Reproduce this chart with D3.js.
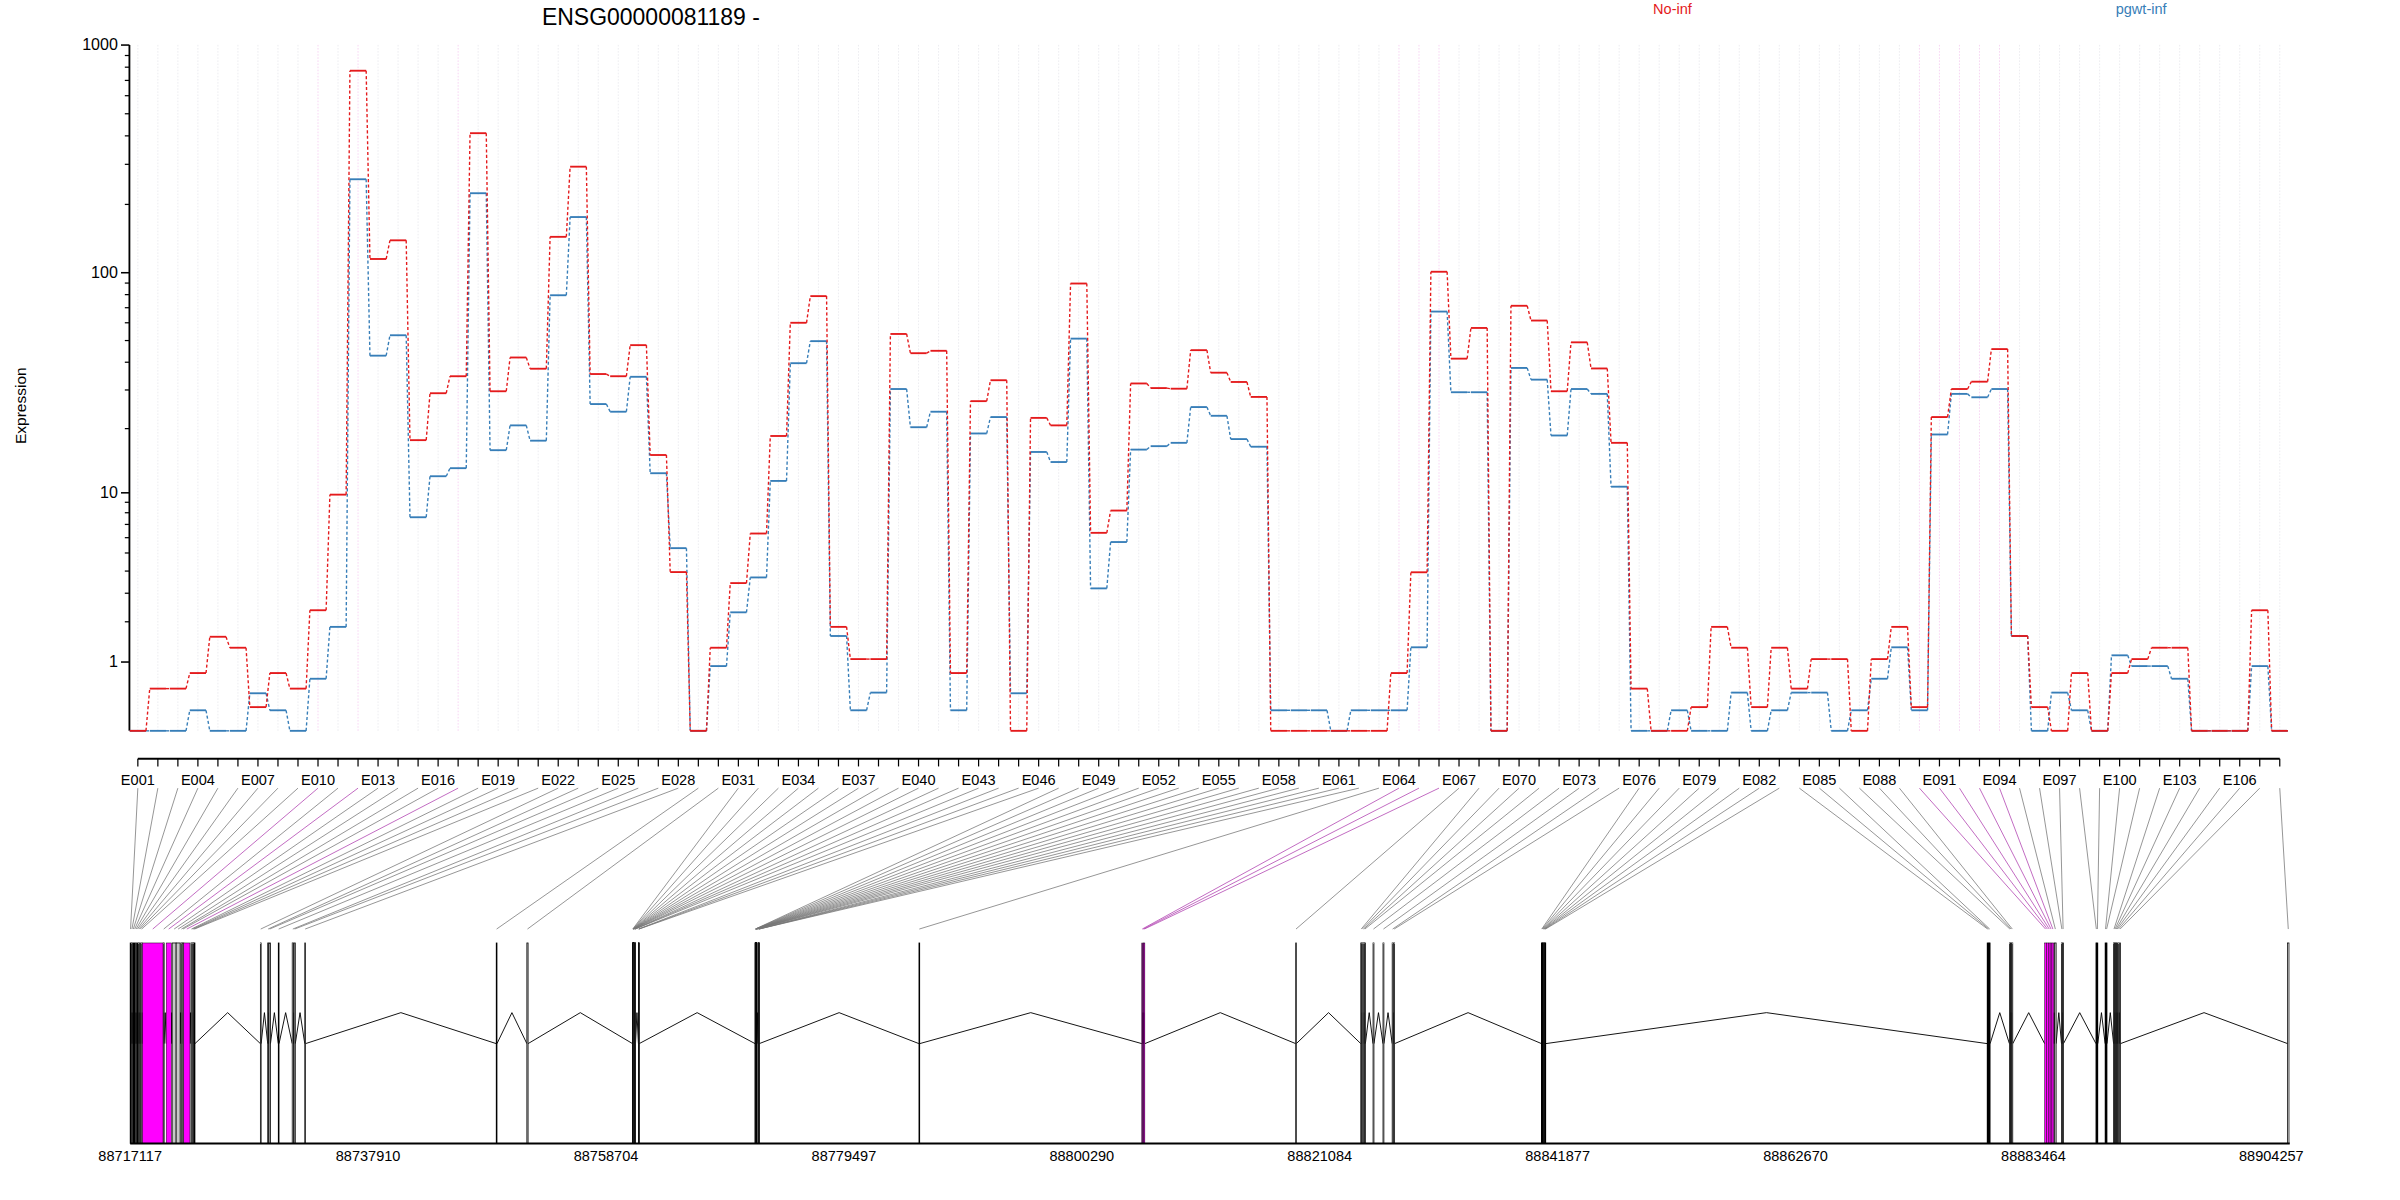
<!DOCTYPE html>
<html>
<head>
<meta charset="utf-8">
<script src="https://cdn.jsdelivr.net/npm/d3@7"></script>
<style>
  body { margin: 0; background: #fff; }
  text { font-family: "Liberation Sans", Arial, sans-serif; }
</style>
</head>
<body>
<div id="chart"></div>
<script>
// expression per exon, E001..E108
var noInf = [0,0.53,0.53,0.79,1.58,1.31,0.27,0.79,0.53,2.37,
  9.8,772,115,139,17.7,29,34.6,411,29.6,42,
  37.4,144,293,35.4,34.6,47.7,15.1,3.95,0,1.31,
  3.43,6.3,18.5,60,78.8,1.85,1.06,1.06,53.5,43.9,
  45,0.79,26.7,33.2,0,22.4,20.7,89.6,6.35,8.2,
  32.1,30.6,30.4,45.3,35.9,32.6,27.9,0,0,0,
  0,0,0,0.79,3.94,101,41.5,56.9,0,71.4,
  61.4,29.6,49.1,37.5,17.2,0.53,0,0,0.27,1.85,
  1.31,0.27,1.31,0.53,1.06,1.06,0,1.06,1.85,0.27,
  22.6,30.3,32.7,45.8,1.6,0.27,0,0.79,0,0.79,
  1.06,1.31,1.31,0,0,0,2.37,0];
var pgwtInf = [0,0,0,0.23,0,0,0.46,0.23,0,0.69,
  1.85,258,42.8,52.8,7.6,12,13.1,224,15.9,20.7,
  17.6,79.5,176,25.9,23.9,34.4,12.4,5.3,0,0.92,
  2.3,3.69,11.4,39.6,49.7,1.6,0.23,0.47,30.3,20.3,
  23.9,0.23,19,22.6,0.46,15.6,14,51,3.2,5.7,
  16,16.6,17.2,25.1,22.9,17.9,16.5,0.23,0.23,0.23,
  0,0.23,0.23,0.23,1.32,67.3,29.3,29.3,0,37.7,
  33.4,18.6,30.3,28.8,10.7,0,0,0.23,0,0,
  0.47,0,0.23,0.47,0.47,0,0.23,0.69,1.32,0.23,
  18.8,28.8,27.8,30.3,1.6,0,0.47,0.23,0,1.14,
  0.92,0.92,0.69,0,0,0,0.92,0];

// exon start (bp after gene start) and length (bp)
var exonStart = [0,120,241,361,482,602,723,843,964,1071,
  2891,3146,3668,4016,4444,4551,4685,5314,5421,5515,
  5595,11378,12021,12128,12944,14162,14323,15260,31993,34670,
  43906,43918,43930,43942,43954,43966,43978,43990,44002,44014,
  44100,44112,44124,44420,44435,44450,54615,54627,54639,54651,
  54663,54675,54687,54699,54711,54723,54735,54747,54900,54915,
  54930,54945,68938,88415,88509,88603,101867,107556,107663,107770,
  107877,108627,109497,110300,110434,123352,123399,123446,123493,123540,
  123587,123634,123681,162305,162399,162493,164246,164353,164460,167325,
  167485,167645,167805,167965,168195,168798,168905,171810,171904,172613,
  172707,173353,173447,173540,173634,173754,173888,188560];
var exonLength = [67,67,67,67,67,67,67,67,80,1807,
  80,442,348,348,80,134,535,80,80,67,
  67,67,67,134,67,107,107,67,67,107,
  40,40,40,40,40,40,40,40,40,40,40,40,40,40,40,40,
  40,40,40,40,40,40,40,40,40,40,40,40,40,40,40,40,
  67,80,80,80,54,80,80,80,80,80,80,80,80,
  40,40,40,40,40,40,40,40,
  67,67,67,80,80,80,160,160,160,160,160,134,67,67,67,67,67,67,
  67,67,67,67,67,67,120];
// w = white, m = magenta (flagged), g = grey
var exonFill = "wwwwwwwwwmwmggwwmwwww" + "wwgwwgw" + "wg" +
  "wwwwwwwwwwwwwggg" + "wwwwwwwwwwwwwwgg" + "w" + "mmm" + "w" +
  "wwwwwwww" + "gggggggg" + "www" + "wgw" + "mmmmm" + "g" + "ww" + "ww" + "ww" +
  "wwwgww" + "w";

var geneStart = 88717117;
var geneTicks = [88717117,88737910,88758704,88779497,88800290,88821084,88841877,88862670,88883464,88904257];
var exonIds = d3.range(1, 109).map(function(i) { return "E" + String(i).padStart(3, "0"); });
var yTicks = [1, 10, 100, 1000];

var W = 1567, H = 775;
var red = "#e41a1c", blue = "#377eb8";

var svg = d3.select("#chart").append("svg")
  .attr("width", 2400).attr("height", 1200)
  .attr("viewBox", "0 0 " + W + " " + H)
  .attr("preserveAspectRatio", "none");

var x = d3.scalePoint().domain(exonIds).range([90, 90 + 107 * 13.07]);
var y = d3.scaleLog().domain([1, 1001]).range([472, 29.1]);
var half = 5.3;

// grid
svg.append("g").selectAll("line").data(exonIds).enter().append("line")
  .attr("x1", d => x(d)).attr("x2", d => x(d))
  .attr("y1", 29).attr("y2", 472)
  .attr("stroke", (d, i) => exonFill[i] == "m" ? "#f4c8f0" : "#e6e6ec")
  .attr("stroke-width", 0.5)
  .attr("stroke-dasharray", "1,1");

// y axis
var yAxisG = svg.append("g");
yAxisG.append("line").attr("x1", 84.5).attr("x2", 84.5)
  .attr("y1", y(1001)).attr("y2", 472).attr("stroke", "#000").attr("stroke-width", 1.2);
var minor = [];
[1, 10, 100].forEach(function(b) { for (var k = 2; k <= 9; k++) minor.push(b * k); });
yAxisG.selectAll(".mt").data(minor).enter().append("line")
  .attr("x1", 81.5).attr("x2", 84.5)
  .attr("y1", d => y(d + 1)).attr("y2", d => y(d + 1))
  .attr("stroke", "#000").attr("stroke-width", 0.8);
yAxisG.selectAll(".Mt").data(yTicks).enter().append("line")
  .attr("x1", 79).attr("x2", 84.5)
  .attr("y1", d => y(d + 1)).attr("y2", d => y(d + 1))
  .attr("stroke", "#000").attr("stroke-width", 1);
yAxisG.selectAll("text").data(yTicks).enter().append("text")
  .attr("x", 77).attr("y", d => y(d + 1) + 3.5)
  .attr("text-anchor", "end").attr("font-size", 10.5)
  .text(d => d);

svg.append("text")
  .attr("transform", "translate(17," + 262 + ") rotate(-90)")
  .attr("text-anchor", "middle").attr("font-size", 10)
  .text("Expression");

// x axis
var xg = svg.append("g");
xg.append("line").attr("x1", x("E001")).attr("x2", x("E108"))
  .attr("y1", 490).attr("y2", 490).attr("stroke", "#000").attr("stroke-width", 1.2);
xg.selectAll("line.t").data(exonIds).enter().append("line")
  .attr("x1", d => x(d)).attr("x2", d => x(d))
  .attr("y1", 490).attr("y2", 495).attr("stroke", "#000").attr("stroke-width", 0.8);
xg.selectAll("text").data(exonIds.filter((d, i) => i % 3 == 0)).enter().append("text")
  .attr("x", d => x(d)).attr("y", 507)
  .attr("text-anchor", "middle").attr("font-size", 9.5)
  .text(d => d);

// step lines
function drawSeries(vals, color) {
  var g = svg.append("g");
  var pts = vals.map((v, i) => ({ cx: x(exonIds[i]), cy: y(v + 1) }));
  g.selectAll("line.h").data(pts).enter().append("line")
    .attr("x1", d => d.cx - half).attr("x2", d => d.cx + half)
    .attr("y1", d => d.cy).attr("y2", d => d.cy)
    .attr("stroke", color).attr("stroke-width", 1.2);
  g.selectAll("line.c").data(pts.slice(0, -1)).enter().append("line")
    .attr("x1", d => d.cx + half).attr("y1", d => d.cy)
    .attr("x2", (d, i) => pts[i + 1].cx - half).attr("y2", (d, i) => pts[i + 1].cy)
    .attr("stroke", color).attr("stroke-width", 0.9)
    .attr("stroke-dasharray", "2,1.5");
}
drawSeries(pgwtInf, blue);
drawSeries(noInf, red);

// titles
svg.append("text").attr("x", 425).attr("y", 16).attr("text-anchor", "middle")
  .attr("font-size", 15).text("ENSG00000081189 -");
svg.append("text").attr("x", 1092).attr("y", 9).attr("text-anchor", "middle")
  .attr("font-size", 9.5).attr("fill", red).text("No-inf");
svg.append("text").attr("x", 1398).attr("y", 9).attr("text-anchor", "middle")
  .attr("font-size", 9.5).attr("fill", blue).text("pgwt-inf");

// gene model
var gx = d3.scaleLinear().domain([geneStart, geneStart + 187140]).range([85, 1483]);
var exons = exonIds.map(function(id, i) {
  var s = geneStart + exonStart[i], e = s + exonLength[i];
  return { id: id, s: s, e: e, fill: exonFill[i] };
});
var fillColor = { w: "#fff", m: "#ff00ff", g: "#c8c8c8" };

// connecting lines
svg.append("g").selectAll("line").data(exons).enter().append("line")
  .attr("x1", d => x(d.id)).attr("y1", 509)
  .attr("x2", d => gx((d.s + d.e) / 2)).attr("y2", 600)
  .attr("stroke", d => d.fill == "m" ? "#b040b0" : "#777")
  .attr("stroke-width", 0.5);

// introns
var introns = [];
for (var i = 0; i < exons.length - 1; i++) {
  if (exons[i + 1].s > exons[i].e) introns.push([exons[i].e, exons[i + 1].s]);
}
svg.append("g").selectAll("path").data(introns).enter().append("path")
  .attr("d", d => "M" + gx(d[0]) + ",674L" + gx((d[0] + d[1]) / 2) + ",654L" + gx(d[1]) + ",674")
  .attr("fill", "none").attr("stroke", "#000").attr("stroke-width", 0.6);

svg.append("g").selectAll("rect").data(exons).enter().append("rect")
  .attr("x", d => gx(d.s)).attr("y", 609)
  .attr("width", d => Math.max(0.3, gx(d.e) - gx(d.s))).attr("height", 129.5)
  .attr("fill", d => fillColor[d.fill])
  .attr("stroke", "#000").attr("stroke-width", d => d.fill == "m" ? 0.3 : 0.5);

svg.append("line").attr("x1", 85).attr("x2", 1495).attr("y1", 738.5).attr("y2", 738.5)
  .attr("stroke", "#000").attr("stroke-width", 1.2);
svg.append("g").selectAll("text").data(geneTicks).enter().append("text")
  .attr("x", d => gx(d)).attr("y", 750)
  .attr("text-anchor", "middle").attr("font-size", 9.5)
  .text(d => d);
</script>
</body>
</html>
